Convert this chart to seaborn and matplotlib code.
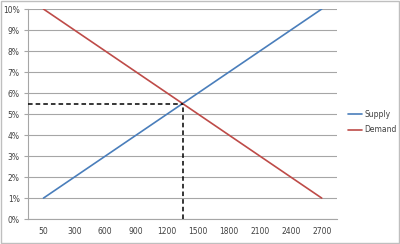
import matplotlib
matplotlib.use("Agg")
import matplotlib.pyplot as plt
import seaborn as sns
import pandas as pd
import numpy as np
from matplotlib.ticker import FixedLocator, PercentFormatter

categories = [50, 300, 600, 900, 1200, 1500, 1800, 2100, 2400, 2700]
supply = [1, 2, 3, 4, 5, 6, 7, 8, 9, 10]
demand = [10, 9, 8, 7, 6, 5, 4, 3, 2, 1]

sns.set_theme(style="white")
plt.rcParams['font.family'] = ['DejaVu Sans']

idx = np.arange(len(categories))
df = pd.DataFrame({
    "pos": np.concatenate([idx, idx]),
    "value": supply + demand,
    "series": ["Supply"] * len(supply) + ["Demand"] * len(demand),
})

fig = plt.figure(figsize=(4.0, 2.44), dpi=100)
ax = fig.add_axes([0.07, 0.102, 0.773, 0.861])

palette = {"Supply": "#4A7EBB", "Demand": "#BE4B48"}
sns.lineplot(data=df, x="pos", y="value", hue="series", palette=palette,
             ax=ax, linewidth=1.2, legend=True)

# intersection
s = np.array(supply, float); d = np.array(demand, float)
diff = s - d
k = np.where(np.diff(np.sign(diff)) != 0)[0][0]
t = -diff[k] / (diff[k + 1] - diff[k])
xi = idx[k] + t
yi = s[k] + t * (s[k + 1] - s[k])
ax.plot([-0.5, xi], [yi, yi], color="black", linestyle=(0, (3, 2)), linewidth=1.1, zorder=5)
ax.plot([xi, xi], [0, yi], color="black", linestyle=(0, (3, 2)), linewidth=1.1, zorder=5)

ax.set_xlim(-0.5, len(categories) - 0.5)
ax.set_ylim(0, 10)
ax.set_xticks(idx)
ax.set_xticklabels([str(c) for c in categories])
ax.xaxis.set_minor_locator(FixedLocator(np.arange(-0.5, len(categories), 1.0)))
ax.set_yticks(np.arange(0, 11, 1))
ax.yaxis.set_major_formatter(PercentFormatter(decimals=0))
ax.grid(axis="y", color="#A6A6A6", linewidth=0.8)
ax.set_axisbelow(True)
for sp in ["top", "right"]:
    ax.spines[sp].set_visible(False)
for sp in ["left", "bottom"]:
    ax.spines[sp].set_color("#A6A6A6")
    ax.spines[sp].set_linewidth(0.8)
ax.tick_params(axis="x", which="major", length=0, labelsize=5.5, colors="#404040", pad=6)
ax.tick_params(axis="x", which="minor", length=3, width=0.8, color="#A6A6A6", direction="out")
ax.tick_params(axis="y", which="major", length=3, width=0.8, color="#A6A6A6", labelsize=5.5,
               labelcolor="#404040", direction="out", left=True, pad=3)
ax.set_xlabel("")
ax.set_ylabel("")

handles, labels = ax.get_legend_handles_labels()
leg = ax.legend(handles, labels, loc="center left", bbox_to_anchor=(1.035, 0.462), frameon=False,
                fontsize=5.5, handlelength=1.85, handletextpad=0.3, labelspacing=0.85,
                borderaxespad=0, borderpad=0)
for txt in leg.get_texts():
    txt.set_color("#404040")

fig.patches.append(matplotlib.patches.Rectangle((0.002, 0.004), 0.995, 0.992, transform=fig.transFigure,
                                               fill=False, edgecolor="#BFBFBF", linewidth=1.0))
fig.savefig("out.png", dpi=100)
